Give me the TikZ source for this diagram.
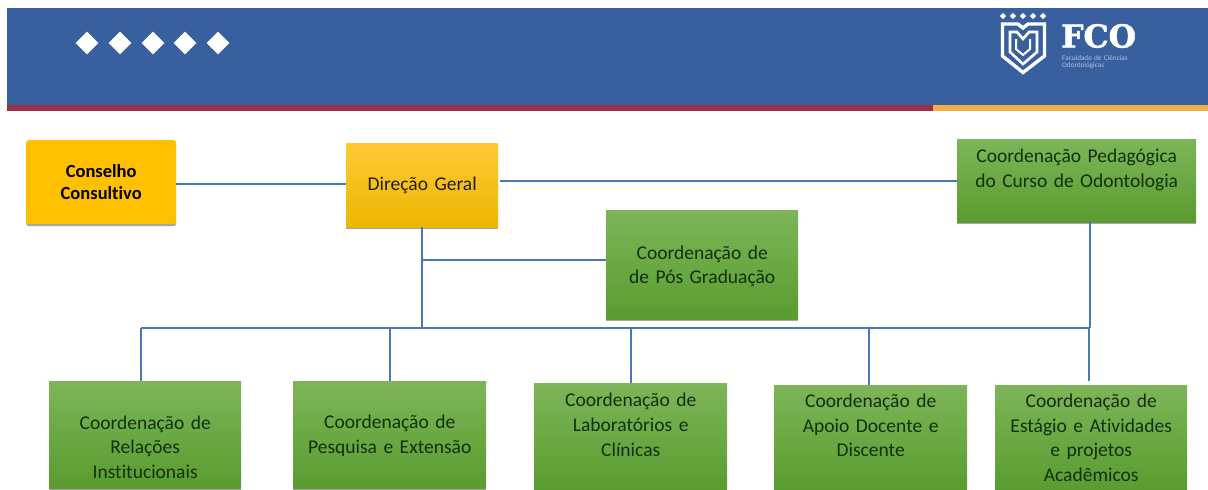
\documentclass[tikz,border=0pt]{standalone}
\usepackage{fontspec}
\setmainfont[WordSpace=1.45,Ligatures=NoCommon]{Carlito}
\newfontfamily\logofont[FakeBold=1.6]{DejaVu Serif}
\usetikzlibrary{shadows,shapes.geometric}
\definecolor{hdrblue}{HTML}{39609E}
\definecolor{hdrred}{HTML}{9A3048}
\definecolor{hdrorange}{HTML}{F4AF4A}
\definecolor{linkblue}{HTML}{4A78B2}
\definecolor{greentop}{HTML}{7DB558}
\definecolor{greenbot}{HTML}{5A9C30}
\definecolor{goldtop}{HTML}{FFC936}
\definecolor{goldbot}{HTML}{ECB700}
\definecolor{gold}{HTML}{FFC000}
\definecolor{greentext}{HTML}{12300A}
\definecolor{logotext}{HTML}{AFC3E2}
\newcommand{\lines}[2]{\raisebox{\dimexpr#1pt-4.9pt\relax}[0pt][0pt]{\begin{tabular}{@{}c@{}}#2\end{tabular}}}
\tikzset{
  x=1pt,y=-1pt,
  every node/.style={font=\fontsize{19.5}{24.5}\selectfont},
  boxbase/.style={anchor=north west,align=center,inner sep=0pt,
    drop shadow={shadow xshift=0pt,shadow yshift=-1.8pt,opacity=.35,fill=black}},
  greenbox/.style={boxbase,top color=greentop,bottom color=greenbot,text=greentext},
  goldbox/.style={boxbase,top color=goldtop,bottom color=goldbot,text=black!85!gold},
  link/.style={draw=linkblue,line width=1.9pt},
  diam/.style={diamond,fill=white,inner sep=0pt,minimum size=23pt},
  logoline/.style={draw=white,line width=3.4pt,line join=miter},
  starpt/.style={diamond,fill=white,inner sep=0pt,minimum size=6.5pt}
}
\begin{document}
\begin{tikzpicture}
\useasboundingbox (0,0) rectangle (1208,490);
\fill[white] (0,0) rectangle (1208,490);
% header
\fill[hdrblue] (7,8) rectangle (1208,105);
\fill[hdrred] (7,105) rectangle (933,111);
\fill[hdrorange] (933,105) rectangle (1208,111);
\foreach \i/\xx in {1/87,2/120,3/153,4/185,5/218}
  \node[diam] (d\i) at (\xx,43) {};
% logo
\foreach \i/\xx in {1/1003,2/1013,3/1023,4/1033,5/1043}
  \node[starpt] (s\i) at (\xx,16) {};
\draw[logoline] (1002.5,24) -- (1018,24) -- (1023,28) -- (1028,24) -- (1044.5,24) -- (1044.5,56) -- (1023,72.5) -- (1002.5,56) -- cycle;
\draw[logoline,line width=2.6pt] (1010,32) -- (1017,32) -- (1023,39) -- (1029,32) -- (1037,32) -- (1037,52) -- (1023,64) -- (1010,52) -- cycle;
\draw[logoline,line width=2pt] (1016,39) -- (1016,49) -- (1023,55) -- (1030,49) -- (1030,39);
\node[anchor=west,text=white,inner sep=0pt,font=\logofont\bfseries\fontsize{31.5}{32}\selectfont] (fco) at (1061,36) {FCO};
\node[anchor=north west,text=logotext,inner sep=0pt,align=left,font=\fontsize{7.2}{7.6}\selectfont] (fcosub) at (1062,55) {Faculdade de Ciências\\Odontológicas};
% boxes
\node[goldbox,rounded corners=2.5pt,top color=gold,bottom color=gold,text=black,text width=150pt,minimum height=84pt,font=\bfseries\fontsize{18.5}{22}\selectfont] (cc) at (26,140) {Conselho\\Consultivo};
\node[goldbox,text width=152pt,minimum height=84pt] (dg) at (346,143) {Direção Geral};
\node[greenbox,text width=239pt,minimum height=83pt] (cp) at (957,139) {\lines{10.5}{Coordenação Pedagógica\\do Curso de Odontologia}};
\node[greenbox,text width=192pt,minimum height=109pt] (pg) at (606,210) {\lines{-2}{Coordenação de\\de Pós Graduação}};
\node[greenbox,text width=192pt,minimum height=107pt] (ri) at (49,381) {\lines{-14.5}{Coordenação de\\Relações\\Institucionais}};
\node[greenbox,text width=193pt,minimum height=107pt] (pe) at (293,381) {\lines{-1.5}{Coordenação de\\Pesquisa e Extensão}};
\node[greenbox,text width=193pt,minimum height=107pt] (lc) at (534,383) {\lines{9.5}{Coordenação de\\Laboratórios e\\[1pt]Clínicas}};
\node[greenbox,text width=193pt,minimum height=105pt] (ad) at (774,385) {\lines{10}{Coordenação de\\Apoio Docente e\\Discente}};
\node[greenbox,text width=192pt,minimum height=105pt] (ea) at (995,385) {\lines{-2}{Coordenação de\\Estágio e Atividades\\e projetos\\Acadêmicos}};
% junctions
\coordinate (trunkT) at (dg.south -| 422,0);
\coordinate (trunkP) at (422,260);
\coordinate (trunkB) at (422,328);
\coordinate (busL) at (141,328);
\coordinate (busR) at (1090,328);
\coordinate (cpB) at (1090,222);
\coordinate (dgR) at (500,181);
\coordinate (cpL) at (957,181);
% connectors
\draw[link] (cc.east |- 0,184) -- (dg.west |- 0,184);
\draw[link] (dgR) -- (cpL);
\draw[link] (trunkT) -- (trunkB);
\draw[link] (trunkP) -- (pg.west |- trunkP);
\draw[link] (busL) -- (busR);
\draw[link] (cpB) -- (busR);
\draw[link] (busL) -- (ri.north -| busL);
\draw[link] (390,328) -- (390,381);
\draw[link] (631,328) -- (631,383);
\draw[link] (869,328) -- (869,385);
\draw[link] (1089,328) -- (1089,381);
\end{tikzpicture}
\end{document}
